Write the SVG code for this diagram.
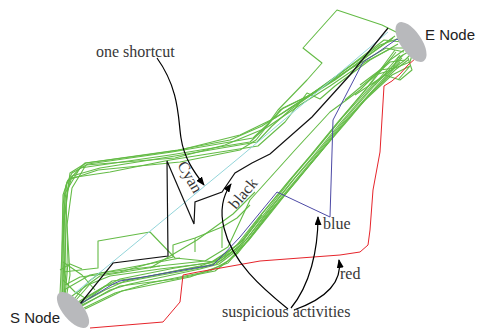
<svg xmlns="http://www.w3.org/2000/svg" width="479" height="330" viewBox="0 0 479 330">
<style>
.g{fill:none;stroke:#64bb46;stroke-width:1.1;stroke-linejoin:round}
.r{fill:none;stroke:#e6242b;stroke-width:1}
.b{fill:none;stroke:#4d4aa6;stroke-width:1}
.k{fill:none;stroke:#111;stroke-width:1.2}
.c{fill:none;stroke:#93d5da;stroke-width:1}
.a{fill:none;stroke:#000;stroke-width:1.2}
.lbl{font-family:"Liberation Serif","Times New Roman",serif;font-size:16px;fill:#383838}
.nl{font-family:"Liberation Sans",Arial,sans-serif;font-size:15px;fill:#222}
.node{fill:#b8b9bc}
</style>
<defs>
<marker id="ah" markerWidth="9" markerHeight="7" refX="8" refY="3.5" orient="auto" markerUnits="userSpaceOnUse">
<path d="M0,0 L9,3.5 L0,7 z" fill="#000"/>
</marker>
</defs>
<rect width="479" height="330" fill="#fff"/>
<g id="connectors">
<g id="green-routes">
<polyline class="g" points="62,298 64,260 63,205 66,185 72,173 88,164 172,152 253,138 268,124 283,108 310,95 345,70 380,45 400,38"/>
<polyline class="g" points="64,299 66,270 65,215 68,190 72,176 100,168 175,156 257,142 272,126 290,110 315,92 350,66 384,40 402,42"/>
<polyline class="g" points="63,297 63,255 64,210 67,182 85,163 107,160 178,150 230,140 262,126 300,102 335,80 370,54 395,36"/>
<polyline class="g" points="65,298 68,262 66,200 70,178 110,172 170,160 258,146 285,122 307,93 320,99 335,86 370,60 398,44"/>
<polyline class="g" points="64,296 65,240 64,195 80,168 170,155 250,142 265,128 278,110 307,80 322,63 303,48 337,10 382,25 400,34"/>
<polyline class="g" points="66,299 70,275 67,225 72,188 86,165 175,158 225,145 266,128 300,105 330,86 365,62 392,48 406,48"/>
<polyline class="g" points="62,296 62,245 63,195 68,180 98,170 180,162 240,150 256,140 280,110 308,96 345,72 386,48 404,52"/>
<polyline class="g" points="60,294 63,230 68,187 70,173 86,163 145,155 180,150 240,135 275,118 305,98 340,76 376,50 393,38"/>
<polyline class="g" points="78,302 100,289 120,279 175,268 213,262 240,243 262,214 290,180 313,153 340,120 368,87 396,52"/>
<polyline class="g" points="80,304 105,290 125,281 180,270 216,264 242,245 264,216 292,181 315,154 342,121 371,88 400,55"/>
<polyline class="g" points="82,306 110,290 130,284 200,269 219,264 244,245 266,216 294,182 316,156 344,122 373,90 402,58"/>
<polyline class="g" points="79,303 105,286 140,279 205,267 222,260 246,240 268,212 295,178 318,152 346,118 375,85 403,55"/>
<polyline class="g" points="84,308 115,293 150,283 210,271 228,261 249,240 270,214 297,180 320,153 348,119 378,86 400,62"/>
<polyline class="g" points="76,300 90,284 110,276 160,269 210,263 236,246 259,217 287,183 310,156 337,123 366,89 395,50"/>
<polyline class="g" points="80,305 112,281 145,277 200,266 220,259 243,240 265,213 293,177 316,150 343,117 373,84 405,60"/>
<polyline class="g" points="75,298 88,282 100,273 150,267 205,261 228,247 250,200 295,150 330,112 360,90 390,60 404,50"/>
<polyline class="g" points="82,305 120,286 175,279 215,271 238,253 262,223 290,188 314,160 341,127 370,94 395,70 408,60"/>
<polyline class="g" points="85,309 122,291 190,277 228,263 250,238 270,212 296,182 318,155 350,118 365,100 392,75 410,66 398,80"/>
<polyline class="g" points="60,270 70,264 82,269"/>
<polyline class="g" points="63,272 98,268 98,241 150,232 175,258 215,262 238,248 262,215"/>
<polyline class="g" points="65,285 80,277 120,272 173,257 173,245 195,238 222,227 237,218 250,205"/>
<polyline class="g" points="195,238 195,252"/>
<polyline class="g" points="222,227 222,248"/>
<polyline class="g" points="64,290 90,275 180,258"/>
<polyline class="g" points="63,262 82,275 95,290"/>
<polyline class="g" points="63,280 75,292 85,298"/>
<polyline class="g" points="150,268 197,240 233,214 255,192"/>
<polyline class="g" points="72,296 100,276 160,266"/>
<polyline class="g" points="360,85 380,70 395,68 410,62 412,55"/>
<polyline class="g" points="355,95 385,75 400,80 412,70 408,58"/>
<polyline class="g" points="370,80 390,62 405,60 415,50"/>
<polyline class="g" points="345,100 375,75 392,70 398,58 408,52"/>
</g>
<polyline id="cyan-route" class="c" points="75,293 240,157 310,98 388,32"/>
<polyline id="red-route" class="r" points="90,328 163,322 180,302 183,275 198,272 260,261 340,255 360,252 368,245 370,230 373,190 380,152 384,86 392,81 400,74 408,65 416,58"/>
<polyline id="blue-route" class="b" points="80,304 100,292 113,284 120,281 213,265 223,255 240,237 277,192 330,217 333,120 363,62 377,53 397,39 400,42"/>
<polyline id="black-route" class="k" points="80,304 113,263 168,256 167,161 194,224 195,202 222,192 235,173 252,163 270,154 312,117 350,75 388,28"/>
</g>
<g id="node-s">
<ellipse class="node" cx="73" cy="310" rx="22" ry="10" transform="rotate(50 73 310)"/>
<text class="nl" x="10" y="323">S Node</text>
</g>
<g id="node-e">
<ellipse class="node" cx="411" cy="42" rx="23" ry="10.5" transform="rotate(56 411 42)"/>
<text class="nl" x="425" y="40">E Node</text>
</g>
<g id="annotations">
<path class="a" d="M157,58 C180,90 178,120 181,138 C184,158 194,172 204,185" marker-end="url(#ah)"/>
<path class="a" d="M288,309 C262,288 232,262 224,228 C219,208 224,194 231,184" marker-end="url(#ah)"/>
<path class="a" d="M291,308 C310,285 318,250 318,217" marker-end="url(#ah)"/>
<path class="a" d="M294,310 C322,300 343,285 339,260" marker-end="url(#ah)"/>
<text class="lbl" x="96" y="57">one shortcut</text>
<text class="lbl" x="222" y="317">suspicious activities</text>
<text class="lbl" x="323" y="229">blue</text>
<text class="lbl" x="340" y="279">red</text>
<text class="lbl" transform="translate(177,165) rotate(60)">Cyan</text>
<text class="lbl" transform="translate(236,210) rotate(-50)">black</text>
</g>
</svg>
